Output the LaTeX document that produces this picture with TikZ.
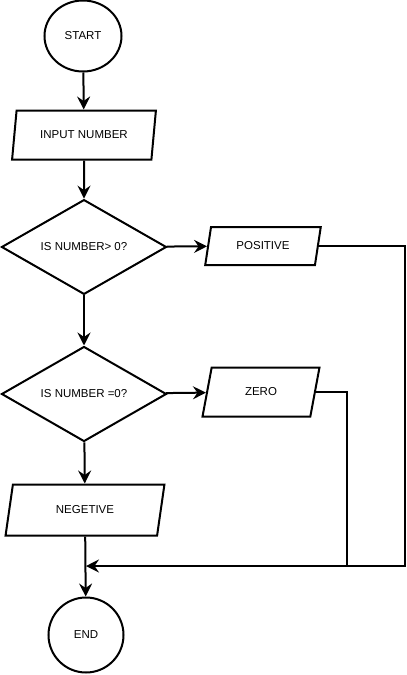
\documentclass[tikz,border=0pt]{standalone}
\usepackage{fontspec}
\setmainfont{Liberation Sans}
\usetikzlibrary{shapes.geometric,arrows.meta}

\tikzset{
  linea/.style={line width=2pt},
  flecha/.style={linea,-{Stealth[length=13pt,width=13pt,inset=4.5pt]}},
  circulo/.style={draw,linea,ellipse,inner sep=0pt},
  rombo/.style={draw,linea,diamond,inner sep=0pt,minimum width=165pt},
  datos/.style={draw,linea,trapezium,trapezium left angle=70,trapezium right angle=110,
    trapezium stretches=true,inner sep=0pt}
}

\begin{document}
\begin{tikzpicture}[x=1pt,y=-1pt,font=\fontsize{11.5}{13}\selectfont]
% Marco del dibujo
\useasboundingbox (0,0) rectangle (407,675);

% Inicio y entrada
\node[circulo,minimum width=77pt,minimum height=71pt] (inicio) at (83,36) {START};
\node[datos,minimum width=144pt,minimum height=49pt] (entrada) at (84,135) {INPUT NUMBER};

% Las dos preguntas
\node[rombo,minimum height=88pt] (mayor) at (84,247) {IS NUMBER> 0?};
\node[rombo,minimum height=95pt] (igual) at (84,394) {IS NUMBER =0?};

% Salidas
\node[datos,minimum width=116pt,minimum height=38pt] (positivo) at (263,246) {POSITIVE};
\node[datos,minimum width=117pt,minimum height=49pt] (cero) at (261,392) {ZERO};
\node[datos,minimum width=159pt,minimum height=51pt] (negativo) at (85,510) {NEGETIVE};

% Fin
\node[circulo,minimum size=75pt] (fin) at (86,635) {END};

% Esquinas de las lineas de regreso
\coordinate (esq1) at (405,566);
\coordinate (esq2) at (347,566);
\coordinate (union) at (86,566);

% Flechas
\draw[flecha] (inicio) -- (entrada);
\draw[flecha] (entrada) -- (mayor);
\draw[flecha] (mayor) -- (positivo);
\draw[flecha] (mayor) -- (igual);
\draw[flecha] (igual) -- (cero);
\draw[flecha] (igual) -- (negativo);
\draw[flecha] (negativo) -- (fin);
\draw[flecha] (positivo.east) -| (esq1) -- (union);
\draw[linea] (cero.east) -| (esq2);
\end{tikzpicture}
\end{document}
